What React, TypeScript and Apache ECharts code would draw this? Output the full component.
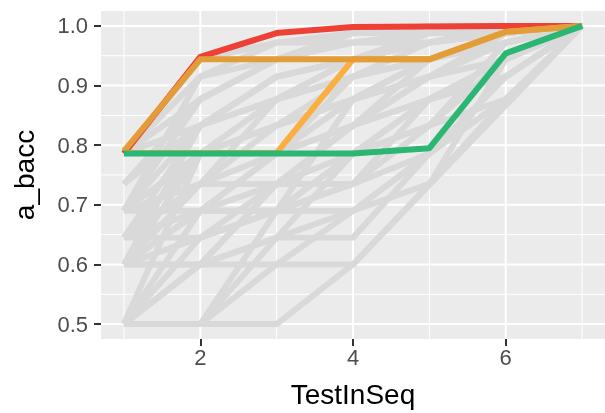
import React, { useEffect, useRef } from "react";
import * as echarts from "echarts";

const testInSeq = [1, 2, 3, 4, 5, 6, 7];
const xTickLabels = [2, 4, 6];
const yTickLabels = [0.5, 0.6, 0.7, 0.8, 0.9, 1.0];
const xMajorGrid = [2, 4, 6];
const xMinorGrid = [1, 3, 5, 7];
const yMajorGrid = [0.5, 0.6, 0.7, 0.8, 0.9, 1.0];
const yMinorGrid = [0.55, 0.65, 0.75, 0.85, 0.95];

const X_MIN = 0.7;
const X_MAX = 7.3;
const Y_MIN = 0.475;
const Y_MAX = 1.025;

const redRun = [0.786, 0.948, 0.988, 0.998, 0.999, 1.0, 1.0];
const lightOrangeRun = [0.787, 0.787, 0.787, 0.944, 0.944, 0.99, 1.0];
const darkOrangeRun = [0.79, 0.944, 0.944, 0.944, 0.944, 0.99, 1.0];
const greenRun = [0.786, 0.786, 0.786, 0.786, 0.795, 0.954, 1.0];

const grayRuns: (number | null)[][] = [
  [0.5, 0.5, 0.5, 0.6, null, null, 1.0],
  [0.5, 0.6, 0.6, 0.6, 0.735, 0.877, 1.0],
  [0.5, 0.5, 0.6, 0.69, 0.786, 0.915, 1.0],
  [0.5, 0.69, 0.69, 0.786, 0.877, 0.944, 1.0],
  [0.6, 0.6, 0.645, 0.645, 0.786, 0.915, 1.0],
  [0.6, 0.69, 0.786, 0.833, 0.877, 0.944, 1.0],
  [0.645, 0.645, 0.69, 0.735, 0.833, 0.972, 1.0],
  [0.645, 0.735, 0.833, 0.877, 0.944, 0.988, 1.0],
  [0.69, 0.69, 0.69, 0.877, 0.915, 0.988, 1.0],
  [0.69, 0.786, 0.877, 0.915, 0.972, 0.988, 1.0],
  [0.69, 0.833, 0.915, 0.944, 0.972, 1.0, 1.0],
  [0.735, 0.877, 0.944, 0.972, 0.988, 1.0, 1.0],
  [0.786, 0.915, 0.972, 0.988, 0.988, 1.0, 1.0],
  [0.786, 0.877, 0.944, 0.988, 0.988, 0.988, 1.0],
  [0.5, 0.645, 0.735, 0.833, 0.915, 0.972, 1.0],
  [0.6, 0.786, 0.786, 0.877, 0.944, 0.988, 1.0],
  [0.645, 0.833, 0.877, 0.944, 0.972, 0.988, 1.0],
  [0.69, 0.735, 0.786, 0.833, 0.944, 0.988, 1.0],
  [0.5, 0.5, 0.69, 0.69, 0.786, 0.877, 1.0],
  [0.6, 0.645, 0.69, 0.786, 0.833, 0.944, 1.0],
  [0.5, 0.6, 0.645, 0.69, 0.735, 0.944, 1.0],
  [0.645, 0.69, 0.735, 0.735, 0.877, 0.915, 1.0],
  [0.786, 0.833, 0.915, 0.944, 0.972, 0.988, 1.0],
  [0.69, 0.877, 0.944, 0.988, 1.0, 1.0, 1.0],
  [0.6, 0.6, 0.735, 0.786, 0.833, 0.877, 1.0],
  [0.645, 0.786, 0.833, 0.915, 0.944, 0.972, 1.0],
  [0.5, 0.5, 0.645, 0.786, 0.877, 0.944, 1.0],
  [0.6, 0.735, 0.877, 0.944, 0.988, 1.0, 1.0],
  [0.69, 0.786, 0.833, 0.877, 0.915, 0.944, 1.0],
  [0.645, 0.69, 0.786, 0.915, 0.944, 0.972, 1.0],
  [0.735, 0.833, 0.877, 0.915, 0.944, 0.988, 1.0],
  [0.5, 0.6, 0.735, 0.833, 0.877, 0.915, 1.0],
  [0.6, 0.69, 0.69, 0.735, 0.786, 0.915, 1.0],
  [0.645, 0.735, 0.735, 0.833, 0.915, 0.944, 1.0],
  [0.786, 0.944, 0.972, 0.972, 0.988, 1.0, 1.0],
  [0.69, 0.915, 0.944, 0.972, 0.972, 0.988, 1.0],
  [0.5, 0.786, 0.833, 0.877, 0.944, 0.988, 1.0],
  [0.6, 0.833, 0.915, 0.944, 0.988, 0.988, 1.0],
];

const toPairs = (run: (number | null)[]) =>
  run
    .map((v, i) => (v == null ? null : [testInSeq[i], v]))
    .filter((p) => p !== null) as number[][];

export default function App() {
  const ref = useRef<HTMLDivElement>(null);
  useEffect(() => {
    const chart = echarts.init(ref.current!, null, { renderer: "svg" });
    const base: any = {
      type: "line",
      symbol: "none",
      silent: true,
      animation: false,
      emphasis: { disabled: true },
      connectNulls: true,
    };
    const gridLines: any[] = [
      ...yMinorGrid.map((v) => ({
        ...base,
        z: 1,
        data: [[X_MIN, v], [X_MAX, v]],
        lineStyle: { color: "#ffffff", width: 1 },
      })),
      ...xMinorGrid.map((v) => ({
        ...base,
        z: 1,
        data: [[v, Y_MIN], [v, Y_MAX]],
        lineStyle: { color: "#ffffff", width: 1 },
      })),
      ...yMajorGrid.map((v) => ({
        ...base,
        z: 1,
        data: [[X_MIN, v], [X_MAX, v]],
        lineStyle: { color: "#ffffff", width: 2 },
      })),
      ...xMajorGrid.map((v) => ({
        ...base,
        z: 1,
        data: [[v, Y_MIN], [v, Y_MAX]],
        lineStyle: { color: "#ffffff", width: 2 },
      })),
    ];
    const lineStyle = (color: string, width: number) => ({
      color,
      width,
      cap: "butt",
      join: "round",
    });
    const grays = grayRuns.map((r) => ({
      ...base,
      z: 2,
      data: toPairs(r),
      lineStyle: lineStyle("#D9D9D9", 6),
    }));
    const highlights = [
      { run: redRun, color: "#EE4136" },
      { run: lightOrangeRun, color: "#FAAF40" },
      { run: darkOrangeRun, color: "#E39D38" },
      { run: greenRun, color: "#2BB673" },
    ].map((h) => ({
      ...base,
      z: 3,
      data: toPairs(h.run),
      lineStyle: lineStyle(h.color, 6),
    }));

    chart.setOption({
      animation: false,
      grid: {
        left: 101,
        top: 11,
        right: -4,
        bottom: 71,
        show: true,
        backgroundColor: "#EBEBEB",
        borderWidth: 0,
      },
      xAxis: {
        type: "value",
        min: X_MIN,
        max: X_MAX,
        name: "TestInSeq",
        nameLocation: "middle",
        nameGap: 41,
        nameTextStyle: { color: "#000000", fontSize: 28, fontFamily: "Liberation Sans" },
        axisLine: { show: false },
        splitLine: { show: false },
        axisTick: {
          show: true,
          customValues: xTickLabels,
          length: 7,
          lineStyle: { color: "#333333", width: 2 },
        },
        axisLabel: {
          customValues: xTickLabels,
          margin: 7,
          color: "#4D4D4D",
          fontSize: 22,
          fontFamily: "Liberation Sans",
        },
      },
      yAxis: {
        type: "value",
        min: Y_MIN,
        max: Y_MAX,
        name: "a_bacc",
        nameLocation: "middle",
        nameRotate: 90,
        nameGap: 63,
        nameTextStyle: { color: "#000000", fontSize: 28, fontFamily: "Liberation Sans" },
        axisLine: { show: false },
        splitLine: { show: false },
        axisTick: {
          show: true,
          customValues: yTickLabels,
          length: 7,
          lineStyle: { color: "#333333", width: 2 },
        },
        axisLabel: {
          customValues: yTickLabels,
          margin: 13,
          color: "#4D4D4D",
          fontSize: 22,
          fontFamily: "Liberation Sans",
          formatter: (v: number) => v.toFixed(1),
        },
      },
      series: [...gridLines, ...grays, ...highlights],
    });
    return () => chart.dispose();
  }, []);
  return (
    <div
      ref={ref}
      style={{ position: "fixed", left: 0, top: 0, width: 605, height: 413 }}
    />
  );
}
